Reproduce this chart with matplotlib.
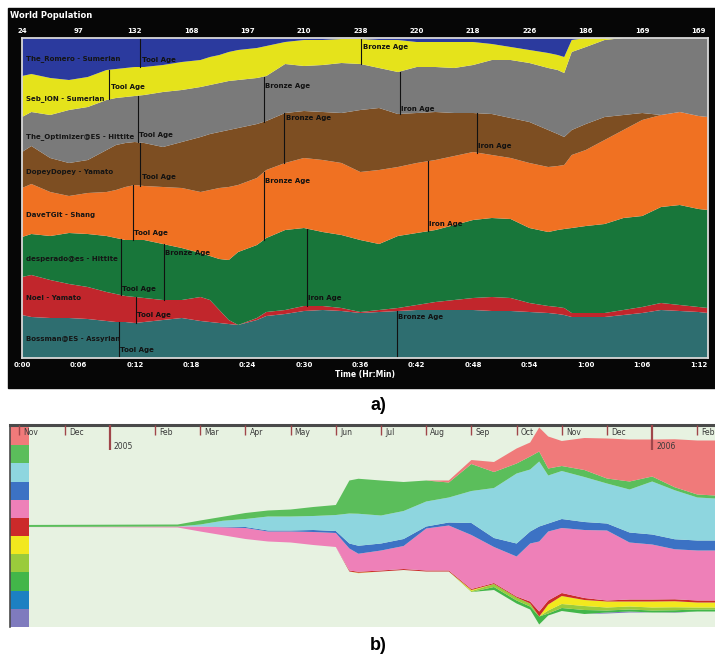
import numpy as np
import matplotlib
matplotlib.use('Agg')
import matplotlib.pyplot as plt
import matplotlib.transforms as mtransforms
from matplotlib.patches import Rectangle

W, H = 715, 659

# ---------------- panel a) : civilisation share of world population ----------------
minutes = [0, 1, 3, 5, 7, 9, 10, 11, 12, 13, 15, 17, 19, 20, 21, 22, 23, 25, 26, 28,
           30, 32, 34, 36, 38, 40, 42, 44, 46, 48, 50, 52, 54, 56, 57, 57.7, 58.5, 60,
           62, 64, 66, 68, 70, 72, 73]

# relative population of each player (bottom of the stack first)
bossman = [43, 41, 40, 40, 39, 37, 36, 36, 35, 36, 38, 40, 37, 36, 35, 34, 33, 38, 42, 44,
           47, 48, 47, 45, 46, 47, 48, 48, 48, 48, 47, 47, 46, 45, 44, 43, 41, 41, 41, 43,
           45, 48, 47, 46, 45]
noel = [38, 42, 38, 34, 32, 29, 28, 26, 26, 24, 20, 18, 24, 22, 13, 4, 0, 2, 4, 4,
        5, 4, 3, 1, 2, 3, 5, 8, 10, 12, 14, 13, 9, 7, 7, 7, 4, 4, 4, 5,
        6, 7, 6, 5, 5]
desperado = [40, 41, 44, 51, 53, 56, 56, 56, 57, 58, 56, 52, 44, 44, 51, 60, 73, 73, 74, 80,
             78, 74, 73, 72, 66, 72, 72, 72, 75, 78, 79, 79, 75, 74, 77, 79, 85, 87, 89, 92,
             91, 96, 100, 98, 98]
davetgit = [49, 50, 44, 37, 41, 44, 48, 53, 55, 54, 57, 60, 61, 66, 71, 73, 67, 67, 68, 67,
            70, 72, 72, 68, 74, 69, 70, 70, 69, 68, 63, 61, 65, 65, 64, 64, 73, 76, 84, 88,
            96, 92, 93, 93, 93]
dopey = [36, 38, 34, 33, 33, 42, 45, 44, 43, 43, 40, 46, 55, 56, 56, 57, 57, 54, 49, 50,
         47, 48, 50, 62, 62, 53, 50, 48, 43, 39, 41, 40, 41, 37, 32, 28, 25, 26, 23, 15,
         7, 0, 0, 0, 0]
optimizer = [35, 34, 43, 53, 53, 50, 47, 46, 46, 48, 55, 52, 50, 49, 49, 49, 48, 46, 45, 49,
             45, 47, 50, 46, 40, 42, 46, 45, 45, 48, 54, 58, 59, 62, 64, 64, 78, 77, 77, 77,
             75, 77, 74, 78, 79]
seb_ion = [41, 38, 37, 30, 30, 30, 29, 29, 29, 28, 27, 28, 27, 28, 28, 29, 30, 30, 30, 22,
           26, 25, 24, 25, 28, 32, 25, 25, 26, 23, 16, 13, 13, 15, 15, 16, 12, 9, 2, 0,
           0, 0, 0, 0, 0]
romero = [38, 36, 40, 42, 39, 32, 31, 30, 29, 29, 27, 24, 22, 19, 17, 14, 12, 10, 8, 4,
          2, 2, 1, 1, 2, 2, 4, 4, 4, 4, 6, 9, 12, 15, 17, 19, 2, 0, 0, 0,
          0, 0, 0, 0, 0]

player_names = ['Bossman@ES - Assyrian', 'Noel - Yamato', 'desperado@es - Hittite',
                'DaveTGit - Shang', 'DopeyDopey - Yamato', 'The_Optimizer@ES - Hittite',
                'Seb_ION - Sumerian', 'The_Romero - Sumerian']
player_colors = ['#2E6E70', '#C1262C', '#18763A', '#F07122', '#7D4E22', '#7A7A7A',
                 '#E5E31B', '#2B3A9E']

time_ticks = [0, 6, 12, 18, 24, 30, 36, 42, 48, 54, 60, 66, 72]
time_labels = ['0:00', '0:06', '0:12', '0:18', '0:24', '0:30', '0:36', '0:42', '0:48',
               '0:54', '1:00', '1:06', '1:12']
world_pop = [24, 97, 132, 168, 197, 210, 238, 220, 218, 226, 186, 169, 169]

# age advances: player index, minute, age
age_player = [7, 6, 6, 5, 5, 5, 4, 4, 4, 3, 3, 3, 2, 2, 2, 1, 0, 0]
age_minute = [12.6, 9.3, 36.1, 12.3, 25.7, 40.2, 12.6, 27.9, 48.4, 11.8, 25.7, 43.2,
              10.5, 15.1, 30.3, 12.1, 10.3, 39.9]
age_name = ['Tool Age', 'Tool Age', 'Bronze Age', 'Tool Age', 'Bronze Age', 'Iron Age',
            'Tool Age', 'Bronze Age', 'Iron Age', 'Tool Age', 'Bronze Age', 'Iron Age',
            'Tool Age', 'Bronze Age', 'Iron Age', 'Tool Age', 'Tool Age', 'Bronze Age']
# where the label sits inside the band (0 = band bottom, 1 = band top)
age_label_pos = [0.24, 0.43, 0.67, 0.15, 0.8, 0.12, 0.21, 0.9, 0.18, 0.13, 0.88, 0.1,
                 0.1, 0.84, 0.1, 0.3, 0.22, 0.87]

# ---------------- panel b) : streamgraph ----------------
months_b = [-0.2, 3.5, 4, 4.5, 5, 5.5, 6, 6.5, 7, 7.3, 7.5, 8, 8.5, 9, 9.5, 10, 10.5,
            11, 11.3, 11.5, 11.7, 12, 12.5, 13, 13.5, 14, 14.5, 15, 15.4]
b_salmon = [0, 0, 0, 0, 0, 0, 0, 0, 0, 0, 0, 0, 0, 0, 2, 4, 10, 15, 14, 24, 32, 25, 32, 40,
            42, 37, 48, 54, 55]
b_green = [2, 2, 4, 4, 6, 6, 7, 9, 10, 33, 35, 35, 29, 21, 15, 27, 16, 10, 13, 10, 7, 5, 7,
           5, 8, 5, 3, 3, 3]
b_cyan = [0, 0, 2, 6, 8, 14, 14, 14, 16, 30, 32, 28, 28, 25, 25, 32, 50, 70, 62, 65, 48, 48,
          45, 40, 43, 53, 49, 43, 42]
b_blue = [0, 0, 0, 0.5, 1, 1, 1, 2, 2, 5, 8, 7, 7, 2, 3, 12, 9, 13, 12, 15, 8, 9, 8, 7, 10,
          10, 10, 10, 10]
b_pink = [0, 1, 5, 8, 11, 10, 11, 13, 14, 22, 18, 20, 23, 42, 45, 54, 36, 40, 58, 70, 69, 65,
          68, 70, 57, 55, 50, 50, 50]
b_red = [0, 0, 0, 0, 0, 0, 0, 0, 0, 1, 1, 1, 1, 1, 1, 1, 1, 1, 2, 5, 4, 3, 2, 1, 2, 2, 2, 2, 2]
b_yellow = [0, 0, 0, 0, 0, 0, 0, 0, 0, 0, 0.5, 0, 0, 0, 0, 1, 0, 0, 0, 0, 6, 8, 6, 6, 5, 6,
            6, 5, 5]
b_lime = [0, 0, 0, 0, 0, 0, 0, 0, 0, 0, 0, 0, 0, 0, 0, 1, 3, 3, 3, 0, 3, 4, 4, 3, 3, 3, 3,
          2, 2]
b_green2 = [0, 0, 0, 0, 0, 0, 0, 0, 0, 0, 0, 0, 0, 0, 0, 0, 3, 3, 3, 8, 2, 3, 4, 2, 2, 2, 2,
            2, 2]
b_blue2 = [0, 0, 0, 0, 0, 0, 0, 0, 0, 0, 0, 0, 0, 0, 0, 0, 0, 0, 0, 0, 0, 0, 0, 0, 0, 0, 0,
           0, 0]
b_purple = [0, 0, 0, 0, 0, 0, 0, 0, 0, 0, 0, 0, 0, 0, 0, 0, 0, 0, 0, 0, 0, 0, 0, 1, 1, 0,
            0.5, 0, 0]
stream_colors = ['#F07A7A', '#5BBE5B', '#8ED6DF', '#3C72C4', '#EE80B8', '#CC2A2A',
                 '#F2E81E', '#9ACB3C', '#42B649', '#1C80C2', '#7F7BBE']  # top to bottom
month_labels = ['Nov', 'Dec', '2005', 'Feb', 'Mar', 'Apr', 'May', 'Jun', 'Jul', 'Aug',
                'Sep', 'Oct', 'Nov', 'Dec', '2006', 'Feb']


def fig_box(x0, y0, x1, y1):
    return [x0 / W, 1 - y1 / H, (x1 - x0) / W, (y1 - y0) / H]


fig = plt.figure(figsize=(W / 100, H / 100), dpi=100)
fig.patch.set_facecolor('white')

# black frame behind panel a
fig.patches.append(Rectangle((8 / W, 1 - 388 / H), 707 / W, 380 / H,
                             transform=fig.transFigure, color='#060606', zorder=-5))
fig.text(10 / W, 1 - 15 / H, 'World Population', color='white', fontsize=6,
         fontweight='bold', ha='left', va='center')

ax = fig.add_axes(fig_box(22, 38, 708, 358))
ax.set_zorder(2)
layers = np.array([bossman, noel, desperado, davetgit, dopey, optimizer, seb_ion, romero],
                  dtype=float)
shares = layers / layers.sum(axis=0) * 100
ax.stackplot(minutes, shares, colors=player_colors, lw=0)
ax.set_xlim(0, 73)
ax.set_ylim(0, 100)
ax.set_yticks([])
ax.set_xticks(time_ticks, labels=time_labels)
ax.tick_params(axis='x', length=0, pad=3, labelsize=5, labelcolor='white')
for lab in ax.get_xticklabels():
    lab.set_fontweight('bold')
ax.set_xlabel('Time (Hr:Min)', color='white', fontsize=5.5, fontweight='bold', labelpad=1)
for sp in ax.spines.values():
    sp.set_color('#D8D8D8')
    sp.set_linewidth(1.3)

top = ax.secondary_xaxis('top')
top.set_xticks(time_ticks, labels=[str(v) for v in world_pop])
top.tick_params(length=0, pad=3, labelsize=5, labelcolor='white')
for lab in top.get_xticklabels():
    lab.set_fontweight('bold')
top.spines['top'].set_visible(False)

cum = np.vstack([np.zeros(len(minutes)), np.cumsum(shares, axis=0)])
for i, name in enumerate(player_names):
    lo, hi = cum[i][0], cum[i + 1][0]
    ax.text(0.4, lo + 0.45 * (hi - lo), name, fontsize=5, fontweight='bold',
            color='#151515', ha='left', va='center')

for p, t, age, pos in zip(age_player, age_minute, age_name, age_label_pos):
    lo = np.interp(t, minutes, cum[p])
    hi = np.interp(t, minutes, cum[p + 1])
    ax.plot([t, t], [lo, hi], color='#111111', lw=0.8)
    ax.text(t + 0.15, lo + pos * (hi - lo), age, fontsize=5, fontweight='bold',
            color='#111111', ha='left', va='center')

fig.text(378 / W, 1 - 405 / H, 'a)', fontsize=13, fontweight='bold', ha='center',
         va='center', family='Liberation Sans')
fig.text(378 / W, 1 - 645 / H, 'b)', fontsize=13, fontweight='bold', ha='center',
         va='center', family='Liberation Sans')

# ---------------- panel b ----------------
axb = fig.add_axes(fig_box(10, 425, 715, 627))
axb.set_facecolor('#E7F2E1')
stack_b = [b_purple, b_blue2, b_green2, b_lime, b_yellow, b_red, b_pink, b_blue, b_cyan,
           b_green, b_salmon]
axb.stackplot(months_b, stack_b, colors=stream_colors[::-1], baseline='sym', lw=0)
axb.set_xlim(-0.21, 15.39)
axb.set_ylim(-101, 101)
axb.set_yticks([])
axb.set_axisbelow(False)

year_idx = [i for i, lab in enumerate(month_labels) if lab.isdigit()]
axb.set_xticks([i for i in range(len(month_labels)) if i not in year_idx])
axb.set_xticks(year_idx, minor=True)
axb.tick_params(axis='x', which='both', direction='in', top=True, bottom=False,
                labeltop=False, labelbottom=False, color='#A0464A')
axb.tick_params(axis='x', which='major', length=7.5, width=1.0)
axb.tick_params(axis='x', which='minor', length=18, width=1.6)
for side in ['right', 'bottom']:
    axb.spines[side].set_visible(False)
axb.spines['top'].set_color('#4A4A4A')
axb.spines['top'].set_linewidth(2.2)
axb.spines['left'].set_color('#4A4A4A')
axb.spines['left'].set_linewidth(1.2)

trans = mtransforms.blended_transform_factory(axb.transData, axb.transAxes)
for i, lab in enumerate(month_labels):
    y = 0.895 if lab.isdigit() else 0.962
    axb.text(i + 0.09, y, lab, transform=trans, fontsize=5.5, color='#3A3A3A',
             ha='left', va='center', zorder=5)

# colour key strip on the left
strip_w = 19 / 705
block_h = (200 / 202) / len(stream_colors)
for i, c in enumerate(stream_colors):
    axb.add_patch(Rectangle((0, 1 - 2 / 202 - (i + 1) * block_h), strip_w, block_h,
                            transform=axb.transAxes, color=c, zorder=1.2, lw=0))

fig.savefig('out.png', dpi=100)
